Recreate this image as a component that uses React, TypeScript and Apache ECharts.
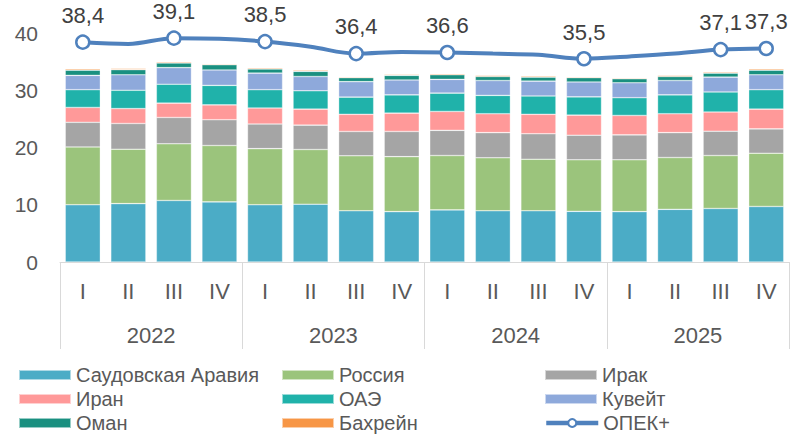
import React, { useEffect, useRef } from "react";
import * as echarts from "echarts";

const quarters = ["I", "II", "III", "IV", "I", "II", "III", "IV", "I", "II", "III", "IV", "I", "II", "III", "IV"];
const years = ["2022", "2023", "2024", "2025"];

const saudi = [10.0, 10.2, 10.75, 10.5, 10.0, 10.1, 8.95, 8.8, 9.1, 8.95, 8.95, 8.85, 8.8, 9.2, 9.35, 9.7];
const russia = [10.1, 9.5, 9.9, 9.85, 9.8, 9.55, 9.6, 9.6, 9.5, 9.25, 9.0, 9.0, 9.05, 9.05, 9.25, 9.3];
const iraq = [4.3, 4.5, 4.6, 4.5, 4.3, 4.25, 4.25, 4.4, 4.4, 4.4, 4.45, 4.3, 4.35, 4.35, 4.25, 4.25];
const iran = [2.6, 2.6, 2.5, 2.6, 2.8, 2.8, 3.0, 3.2, 3.3, 3.3, 3.4, 3.5, 3.4, 3.3, 3.35, 3.45];
const uae = [3.1, 3.2, 3.3, 3.4, 3.2, 3.2, 3.0, 3.2, 3.2, 3.2, 3.2, 3.2, 3.1, 3.3, 3.5, 3.4];
const kuwait = [2.5, 2.7, 2.9, 2.7, 2.9, 2.5, 2.7, 2.6, 2.4, 2.6, 2.6, 2.6, 2.6, 2.5, 2.6, 2.6];
const oman = [0.9, 0.9, 0.8, 0.9, 0.7, 0.9, 0.7, 0.8, 0.8, 0.7, 0.7, 0.75, 0.7, 0.7, 0.7, 0.8];
const bahrain = [0.2, 0.2, 0.2, 0.15, 0.2, 0.2, 0.15, 0.15, 0.2, 0.2, 0.2, 0.15, 0.15, 0.2, 0.2, 0.2];
const opec = [38.4, 38.1, 39.1, 39.0, 38.5, 37.6, 36.4, 36.7, 36.6, 36.4, 36.2, 35.5, 35.9, 36.4, 37.1, 37.3];
const opecMarked = [0, 2, 4, 6, 8, 11, 14, 15];

const FONT = "'Liberation Sans', Arial, sans-serif";

const barSeries = [
  { name: "Саудовская Аравия", data: saudi, color: "#4BACC6" },
  { name: "Россия", data: russia, color: "#9BC47C" },
  { name: "Ирак", data: iraq, color: "#A5A5A5" },
  { name: "Иран", data: iran, color: "#FF9999" },
  { name: "ОАЭ", data: uae, color: "#20B2AA" },
  { name: "Кувейт", data: kuwait, color: "#8EA9DB" },
  { name: "Оман", data: oman, color: "#1A9080" },
  { name: "Бахрейн", data: bahrain, color: "#F79646" },
];

// legend grid: 3 columns x 3 rows
const legendColumns = [18, 281, 544];
const legendRows = [364, 388, 412];
const legendOrder = [
  ["Саудовская Аравия", "Россия", "Ирак"],
  ["Иран", "ОАЭ", "Кувейт"],
  ["Оман", "Бахрейн", "ОПЕК+"],
];

export default function App() {
  const ref = useRef<HTMLDivElement>(null);
  useEffect(() => {
    document.body.style.margin = "0";
    const chart = echarts.init(ref.current!, null, { renderer: "svg" });
    const legends: any[] = [];
    legendOrder.forEach((row, r) =>
      row.forEach((name, c) => {
        legends.push({
          orient: "horizontal",
          left: legendColumns[c],
          top: legendRows[r],
          padding: 0,
          itemWidth: 52,
          itemHeight: 10,
          lineStyle: { width: 4.5 },
          textStyle: { fontFamily: FONT, fontSize: 20, color: "#595959", lineHeight: 22 },
          data: [name === "ОПЕК+" ? { name } : { name, icon: "rect" }],
        });
      })
    );
    chart.setOption({
      animation: false,
      textStyle: { fontFamily: FONT },
      grid: { left: 60, right: 3, top: 33, bottom: 172, containLabel: false },
      legend: legends,
      xAxis: [
        {
          type: "category",
          data: quarters,
          position: "bottom",
          axisLine: { show: false },
          axisTick: { show: false },
          axisLabel: { margin: 18, fontSize: 22, color: "#595959", fontFamily: FONT, interval: 0 },
        },
        {
          type: "category",
          data: years,
          position: "bottom",
          axisLine: { show: true, lineStyle: { color: "#D9D9D9", width: 1 } },
          axisTick: { show: true, length: 87, interval: 0, lineStyle: { color: "#D9D9D9", width: 1 } },
          axisLabel: { margin: 62, fontSize: 22, color: "#595959", fontFamily: FONT, interval: 0 },
        },
      ],
      yAxis: {
        type: "value",
        min: 0,
        max: 40,
        interval: 10,
        axisLine: { show: false },
        axisTick: { show: false },
        splitLine: { show: false },
        axisLabel: { margin: 22, fontSize: 21, color: "#595959", fontFamily: FONT },
      },
      series: [
        ...barSeries.map((s) => ({
          name: s.name,
          type: "bar",
          stack: "total",
          xAxisIndex: 0,
          barWidth: "77%",
          data: s.data,
          itemStyle: { color: s.color, borderColor: "rgba(255,255,255,0.55)", borderWidth: 0.6 },
        })),
        {
          name: "ОПЕК+",
          type: "line",
          xAxisIndex: 0,
          smooth: 0.35,
          clip: false,
          z: 10,
          color: "#4F81BD",
          lineStyle: { color: "#4F81BD", width: 4 },
          symbol: "circle",
          symbolSize: 13,
          itemStyle: { color: "#FFFFFF", borderColor: "#4F81BD", borderWidth: 2.5 },
          label: {
            show: true,
            position: "top",
            distance: 8,
            fontSize: 22,
            color: "#404040",
            fontFamily: FONT,
            formatter: (p: any) => String(p.value).replace(".", ","),
          },
          data: opec.map((v, i) =>
            opecMarked.includes(i)
              ? { value: v }
              : { value: v, symbol: "none", label: { show: false } }
          ),
        },
      ],
    });
    return () => chart.dispose();
  }, []);
  return <div ref={ref} style={{ width: 792, height: 434, position: "absolute", left: 0, top: 0 }} />;
}
